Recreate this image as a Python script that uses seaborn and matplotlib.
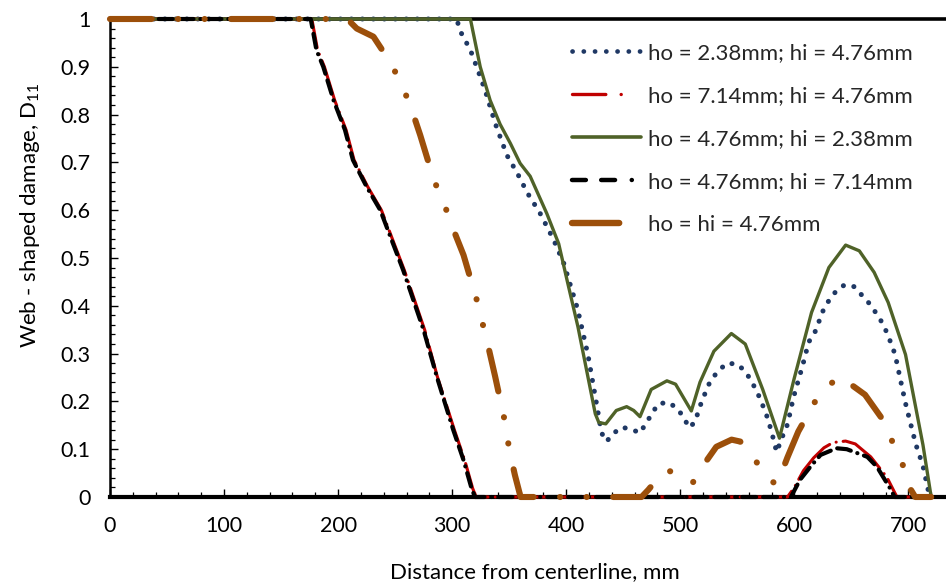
import numpy as np
import pandas as pd
import matplotlib
matplotlib.use("Agg")
import matplotlib.pyplot as plt
from matplotlib.lines import Line2D
from matplotlib.ticker import MultipleLocator, FuncFormatter
import seaborn as sns

# ---------------- data ----------------
labels = ["ho = 2.38mm; hi = 4.76mm", "ho = 7.14mm; hi = 4.76mm",
          "ho = 4.76mm; hi = 2.38mm", "ho = 4.76mm; hi = 7.14mm",
          "ho = hi = 4.76mm"]

blue_x = [0, 304, 307, 316, 323, 329, 338, 348, 357, 366, 377, 389, 398, 410, 419,
          425.5, 431, 435.4, 440.9, 448.5, 456.8, 464.7, 469.9, 480.6, 489.8, 497.4,
          503.5, 507.5, 512.7, 518.8, 526.4, 533.1, 540.8, 549.9, 557, 563, 569.2,
          575.3, 579.9, 584.5, 589, 594.2, 599.1, 607.4, 612.6, 618.1, 625.1, 630.3,
          636.4, 644.1, 652.6, 659.3, 666.1, 672.5, 677.7, 682.2, 688.4, 692.9, 697.5,
          702.1, 706.7, 712.8, 717.4, 720]
blue_y = [1, 1, 0.975, 0.935, 0.89, 0.85, 0.78, 0.715, 0.678, 0.636, 0.594, 0.538, 0.488,
          0.393, 0.298, 0.21, 0.134, 0.116, 0.132, 0.146, 0.142, 0.134, 0.154, 0.195,
          0.198, 0.185, 0.165, 0.145, 0.156, 0.2, 0.243, 0.263, 0.28, 0.278, 0.263, 0.24,
          0.21, 0.174, 0.138, 0.094, 0.123, 0.153, 0.207, 0.276, 0.324, 0.345, 0.389,
          0.411, 0.43, 0.444, 0.44, 0.422, 0.404, 0.382, 0.362, 0.338, 0.298, 0.247,
          0.196, 0.152, 0.109, 0.065, 0.014, 0]

red_x = [0, 177, 182, 188, 197, 207, 214, 226, 238, 249, 258, 270, 276, 287, 302, 311,
         318, 321, 594, 600, 608, 617, 626, 634, 645, 653.5, 667, 681, 690, 720]
red_y = [1, 1, 0.935, 0.9, 0.83, 0.768, 0.705, 0.649, 0.6, 0.531, 0.475, 0.391, 0.349,
         0.252, 0.14, 0.077, 0.018, 0, 0, 0.02, 0.055, 0.082, 0.103, 0.114, 0.117, 0.111,
         0.084, 0.042, 0, 0]

green_x = [0, 316, 324.6, 333.3, 342, 351, 359.6, 368.4, 383, 393.4, 401, 410.3, 419.4, 425.5,
           428.6, 434.7, 443.9, 453, 459.2, 464.7, 474.5, 488.3, 495.9, 509.7, 517.3,
           529.5, 544.8, 557, 572.3, 587, 599.8, 615.1, 630.3, 645, 657, 670, 682.3,
           697.5, 712.8, 720]
green_y = [1, 1, 0.90, 0.83, 0.78, 0.74, 0.698, 0.671, 0.593, 0.53, 0.451, 0.356, 0.247, 0.174,
           0.156, 0.153, 0.181, 0.189, 0.181, 0.168, 0.225, 0.243, 0.236, 0.18, 0.24,
           0.305, 0.342, 0.32, 0.225, 0.123, 0.247, 0.386, 0.48, 0.527, 0.515, 0.47,
           0.407, 0.298, 0.109, 0]

black_x = [0, 176, 181, 187, 196, 206, 213, 225, 237, 248, 257, 269, 275, 286.5, 301, 310,
           317, 320, 597, 605, 614, 623, 637, 646, 664, 672.5, 684, 688, 720]
black_y = [1, 1, 0.935, 0.9, 0.83, 0.768, 0.705, 0.649, 0.6, 0.531, 0.475, 0.391, 0.349,
           0.252, 0.14, 0.077, 0.018, 0, 0, 0.036, 0.063, 0.088, 0.102, 0.1, 0.084, 0.063,
           0.018, 0, 0]

brown_x = [0, 208, 216.4, 231, 245.6, 256, 264.6, 272, 284, 293, 301, 310, 321.6, 327,
           332.6, 337.7, 346.5, 350, 355, 360, 466, 472, 480, 489, 498, 506, 511, 518,
           531.6, 545, 552.6, 565, 577, 585, 594, 603.5, 623, 640, 662, 676, 694.5, 701,
           706, 720]
brown_y = [1, 1, 0.98, 0.963, 0.91, 0.862, 0.81, 0.757, 0.663, 0.613, 0.56, 0.506, 0.412,
           0.36, 0.305, 0.252, 0.155, 0.1, 0.046, 0, 0, 0.015, 0.038, 0.055, 0.05, 0.036,
           0.03, 0.059, 0.105, 0.12, 0.116, 0.08, 0.036, 0.027, 0.083, 0.137, 0.22, 0.252,
           0.214, 0.167, 0.072, 0.02, 0, 0]

x_ticks = [0, 100, 200, 300, 400, 500, 600, 700]
y_ticks = [0, 0.1, 0.2, 0.3, 0.4, 0.5, 0.6, 0.7, 0.8, 0.9, 1]

# ---------------- styling ----------------
sns.set_theme(style="white")
plt.rcParams["font.family"] = ["Lato", "DejaVu Sans"]
plt.rcParams["lines.scale_dashes"] = False

colors = ["#1F3864", "#C00000", "#4F6228", "#000000", "#9C4F0A"]
widths = [3.6, 2.2, 2.4, 3.0, 4.4]
dashes = [(0.1, 7.8), (34, 5, 0.1, 5), None, (10, 5, 10, 5, 0.1, 5), (30, 19, 0.1, 19, 0.1, 19)]
series = [(blue_x, blue_y), (red_x, red_y), (green_x, green_y), (black_x, black_y), (brown_x, brown_y)]

fig = plt.figure(figsize=(9.46, 5.83), dpi=100)
ax = fig.add_axes([110 / 946, (583 - 497) / 583, (946 - 110) / 946, (497 - 19) / 583])

for (xs, ys), lab, c, lw, d in zip(series, labels, colors, widths, dashes):
    df = pd.DataFrame({"x": xs, "y": ys})
    sns.lineplot(data=df, x="x", y="y", ax=ax, color=c, linewidth=lw, sort=False,
                 estimator=None, legend=False)
    ln = ax.lines[-1]
    if d is not None:
        ln.set_dashes(d)
    ln.set_dash_capstyle("round")
    ln.set_solid_capstyle("round")
    ln.set_solid_joinstyle("round")
    ln.set_dash_joinstyle("round")
    ln.set_zorder(3)
    ln.set_clip_on(False)

ax.set_xlim(0, 733)
ax.set_ylim(0, 1)
ax.xaxis.set_major_locator(MultipleLocator(100))
ax.xaxis.set_minor_locator(MultipleLocator(20))
ax.yaxis.set_major_locator(MultipleLocator(0.1))
ax.yaxis.set_minor_locator(MultipleLocator(0.02))
ax.set_xticks(x_ticks)
ax.set_yticks(y_ticks)
ax.yaxis.set_major_formatter(FuncFormatter(lambda v, p: f"{v:g}"))
ax.tick_params(axis="both", which="major", direction="in", length=6, width=1.0,
               color="black", labelsize=15.5, labelcolor="black")
ax.tick_params(axis="both", which="minor", direction="in", length=3.5, width=0.9,
               color="black")
ax.tick_params(axis="x", which="major", pad=14, bottom=True)
ax.tick_params(axis="x", which="minor", bottom=True)
ax.tick_params(axis="y", which="major", pad=14, left=True)
ax.tick_params(axis="y", which="minor", left=True)

for s in ["top", "bottom", "left"]:
    ax.spines[s].set_color("black")
ax.spines["top"].set_linewidth(2.6)
ax.spines["bottom"].set_linewidth(3.0)
ax.spines["left"].set_linewidth(1.8)
ax.spines["right"].set_visible(False)

ax.set_xlabel("Distance from centerline, mm", fontsize=16, color="black")
ax.set_ylabel(r"Web - shaped damage, D$_{\mathregular{11}}$", fontsize=16, color="black")
ax.xaxis.set_label_coords(0.508, -0.136)
ax.yaxis.set_label_coords(-0.081, 0.59)

# legend (Excel-like samples)
handles = [
    Line2D([], [], color=colors[0], lw=3.4, dashes=(0.1, 8.0), dash_capstyle="round"),
    Line2D([], [], color=colors[1], lw=2.4, dashes=(24, 11, 0.1, 40), dash_capstyle="round"),
    Line2D([], [], color=colors[2], lw=2.6, solid_capstyle="round"),
    Line2D([], [], color=colors[3], lw=3.2, dashes=(10, 11, 10, 12, 0.1, 30), dash_capstyle="round"),
    Line2D([], [], color=colors[4], lw=4.6, dashes=(34, 60), dash_capstyle="round"),
]
ax.legend(handles, labels, loc="upper left", bbox_to_anchor=((572 - 110) / 836, (497 - 43) / 478),
          frameon=False, fontsize=16, handlelength=3.1, handletextpad=0.3,
          labelspacing=1.03, borderaxespad=0, borderpad=0)

fig.savefig("out.png", dpi=100, facecolor="white")
